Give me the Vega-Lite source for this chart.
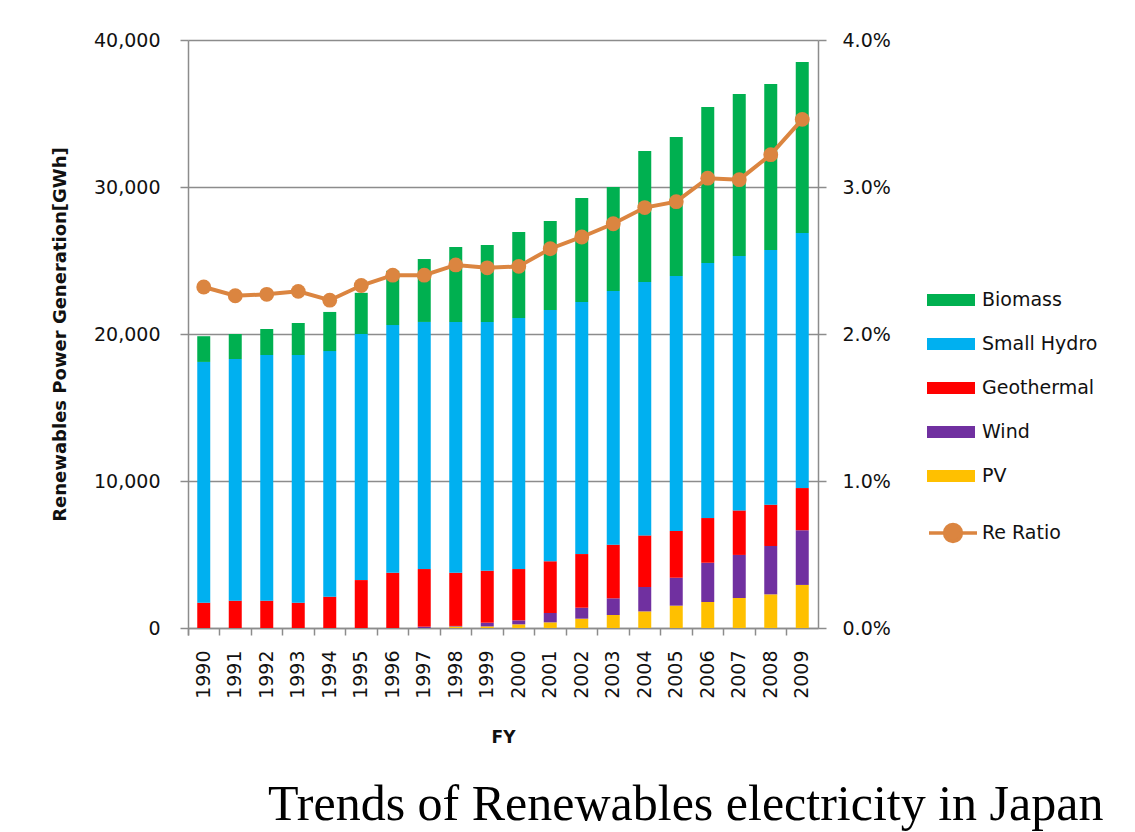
{
  "$schema": "https://vega.github.io/schema/vega-lite/v6.json",
  "width": 630,
  "height": 588,
  "autosize": {"type": "none"},
  "padding": {"left": 188, "top": 40, "right": 317, "bottom": 204},
  "background": "white",
  "config": {
    "view": {"stroke": null},
    "font": "DejaVu Sans",
    "axis": {
      "labelFont": "DejaVu Sans",
      "titleFont": "DejaVu Sans",
      "labelColor": "#111111",
      "titleColor": "#111111",
      "domainColor": "#8c8c8c",
      "tickColor": "#8c8c8c",
      "gridColor": "#8c8c8c",
      "domainWidth": 1.5,
      "tickWidth": 1.5,
      "gridWidth": 1.5
    }
  },
  "data": {
    "values": [
      {"FY": "1990", "PV": 0, "Wind": 0, "Geothermal": 1720, "Small Hydro": 16380, "Biomass": 1750, "ratio": 0.0232},
      {"FY": "1991", "PV": 0, "Wind": 0, "Geothermal": 1860, "Small Hydro": 16440, "Biomass": 1700, "ratio": 0.0226},
      {"FY": "1992", "PV": 0, "Wind": 0, "Geothermal": 1860, "Small Hydro": 16710, "Biomass": 1770, "ratio": 0.0227},
      {"FY": "1993", "PV": 0, "Wind": 0, "Geothermal": 1720, "Small Hydro": 16850, "Biomass": 2180, "ratio": 0.0229},
      {"FY": "1994", "PV": 0, "Wind": 0, "Geothermal": 2130, "Small Hydro": 16710, "Biomass": 2660, "ratio": 0.0223},
      {"FY": "1995", "PV": 0, "Wind": 0, "Geothermal": 3260, "Small Hydro": 16740, "Biomass": 2800, "ratio": 0.0233},
      {"FY": "1996", "PV": 0, "Wind": 0, "Geothermal": 3760, "Small Hydro": 16850, "Biomass": 3690, "ratio": 0.0240},
      {"FY": "1997", "PV": 0, "Wind": 90, "Geothermal": 3920, "Small Hydro": 16810, "Biomass": 4280, "ratio": 0.0240},
      {"FY": "1998", "PV": 100, "Wind": 40, "Geothermal": 3620, "Small Hydro": 17060, "Biomass": 5100, "ratio": 0.0247},
      {"FY": "1999", "PV": 110, "Wind": 250, "Geothermal": 3540, "Small Hydro": 16920, "Biomass": 5230, "ratio": 0.0245},
      {"FY": "2000", "PV": 250, "Wind": 270, "Geothermal": 3490, "Small Hydro": 17080, "Biomass": 5850, "ratio": 0.0246},
      {"FY": "2001", "PV": 385, "Wind": 635, "Geothermal": 3520, "Small Hydro": 17090, "Biomass": 6060, "ratio": 0.0258},
      {"FY": "2002", "PV": 635, "Wind": 745, "Geothermal": 3650, "Small Hydro": 17150, "Biomass": 7070, "ratio": 0.0266},
      {"FY": "2003", "PV": 885, "Wind": 1135, "Geothermal": 3650, "Small Hydro": 17250, "Biomass": 7080, "ratio": 0.0275},
      {"FY": "2004", "PV": 1130, "Wind": 1660, "Geothermal": 3510, "Small Hydro": 17240, "Biomass": 8910, "ratio": 0.0286},
      {"FY": "2005", "PV": 1520, "Wind": 1900, "Geothermal": 3180, "Small Hydro": 17350, "Biomass": 9450, "ratio": 0.0290},
      {"FY": "2006", "PV": 1770, "Wind": 2670, "Geothermal": 3040, "Small Hydro": 17350, "Biomass": 10610, "ratio": 0.0306},
      {"FY": "2007", "PV": 2040, "Wind": 2930, "Geothermal": 3030, "Small Hydro": 17300, "Biomass": 11030, "ratio": 0.0305},
      {"FY": "2008", "PV": 2290, "Wind": 3290, "Geothermal": 2810, "Small Hydro": 17320, "Biomass": 11290, "ratio": 0.0322},
      {"FY": "2009", "PV": 2930, "Wind": 3720, "Geothermal": 2870, "Small Hydro": 17350, "Biomass": 11630, "ratio": 0.0346}
    ]
  },
  "title": {
    "text": "Trends of Renewables electricity in Japan",
    "orient": "bottom",
    "anchor": "start",
    "frame": "group",
    "font": "Liberation Serif",
    "fontSize": 50,
    "fontWeight": "normal",
    "color": "#000000",
    "offset": 35,
    "dx": 80
  },
  "layer": [
    {
      "transform": [
        {"fold": ["PV", "Wind", "Geothermal", "Small Hydro", "Biomass"], "as": ["source", "gwh"]},
        {"calculate": "indexof(['PV','Wind','Geothermal','Small Hydro','Biomass'], datum.source)", "as": "stackIdx"}
      ],
      "mark": {"type": "bar", "size": 13},
      "encoding": {
        "x": {
          "field": "FY",
          "type": "ordinal",
          "scale": {"paddingInner": 0, "paddingOuter": 0},
          "axis": {
            "title": "FY",
            "titleFontSize": 17,
            "titleFontWeight": "bold",
            "titlePadding": 31,
            "labelAngle": 270,
            "labelFontSize": 19,
            "labelPadding": 15,
            "tickSize": 7,
            "bandPosition": 0,
            "tickExtra": true
          }
        },
        "y": {
          "field": "gwh",
          "type": "quantitative",
          "stack": "zero",
          "scale": {"domain": [0, 40000]},
          "axis": {
            "title": "Renewables Power Generation[GWh]",
            "titleFontSize": 18,
            "titleFontWeight": "bold",
            "titlePadding": 24,
            "values": [0, 10000, 20000, 30000, 40000],
            "format": ",.0f",
            "labelFontSize": 19,
            "labelPadding": 20,
            "tickSize": 8,
            "grid": true
          }
        },
        "color": {
          "field": "source",
          "type": "nominal",
          "scale": {
            "domain": ["Biomass", "Small Hydro", "Geothermal", "Wind", "PV"],
            "range": ["#00b050", "#00b0f0", "#ff0000", "#7030a0", "#ffc000"]
          },
          "legend": {
            "orient": "none",
            "legendX": 751,
            "legendY": 248,
            "title": null,
            "symbolType": "M-2,-0.5H2V0.5H-2Z",
            "symbolSize": 576,
            "symbolStrokeWidth": 0,
            "labelFont": "DejaVu Sans",
            "labelFontSize": 19,
            "labelColor": "#111111",
            "labelOffset": 19,
            "rowPadding": 22
          }
        },
        "order": {"field": "stackIdx", "type": "quantitative", "sort": "ascending"}
      }
    },
    {
      "layer": [
        {
          "mark": {"type": "line", "strokeWidth": 4},
          "encoding": {
            "x": {"field": "FY", "type": "ordinal"},
            "y": {
              "field": "ratio",
              "type": "quantitative",
              "scale": {"domain": [0, 0.04]},
              "axis": {
                "orient": "right",
                "title": null,
                "values": [0, 0.01, 0.02, 0.03, 0.04],
                "format": ".1%",
                "labelFontSize": 19,
                "labelPadding": 16,
                "tickSize": 8,
                "grid": false
              }
            },
            "stroke": {
              "datum": "Re Ratio",
              "type": "nominal",
              "scale": {"range": ["#db8540"]},
              "legend": {
                "orient": "none",
                "legendX": 751,
                "legendY": 479,
                "title": null,
                "symbolType": "M-2,0H2M-0.7,0A0.7,0.7 0 1 1 0.7,0A0.7,0.7 0 1 1 -0.7,0",
                "symbolSize": 576,
                "symbolStrokeWidth": 3.5,
                "symbolFillColor": "#db8540",
                "labelFont": "DejaVu Sans",
                "labelFontSize": 19,
                "labelColor": "#111111",
                "labelOffset": 15
              }
            }
          }
        },
        {
          "mark": {"type": "point", "filled": true, "size": 220, "color": "#db8540", "opacity": 1},
          "encoding": {
            "x": {"field": "FY", "type": "ordinal"},
            "y": {"field": "ratio", "type": "quantitative"}
          }
        }
      ]
    }
  ],
  "resolve": {"scale": {"y": "independent"}}
}
